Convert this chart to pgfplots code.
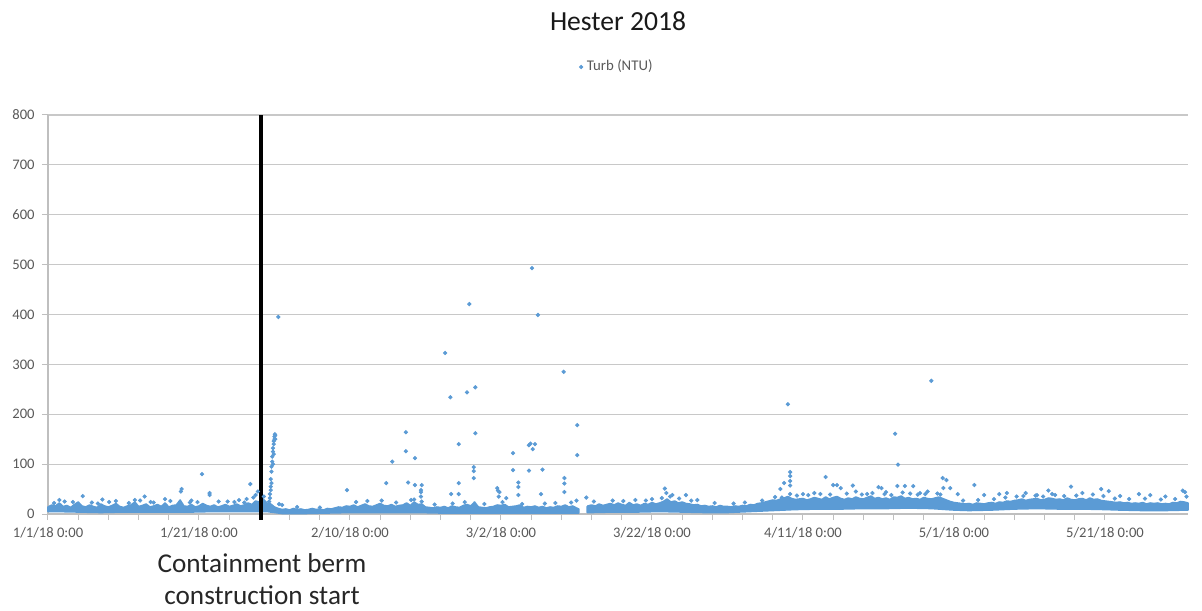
\documentclass[border=0pt]{standalone}
\usepackage{fontspec}
\setmainfont{Carlito}
\usepackage{pgfplots}
\pgfplotsset{compat=1.18}
\usetikzlibrary{calc}
\definecolor{exblue}{HTML}{5B9BD5}
\definecolor{gridgray}{HTML}{C8C8C8}
\definecolor{axisgray}{HTML}{BFBFBF}
\definecolor{labelgray}{HTML}{595959}
\begin{document}
\begin{tikzpicture}
\begin{axis}[name=ax,
  width=570pt, height=199.5pt, scale only axis,
  xmin=0, xmax=151, ymin=0, ymax=800,
  ytick={0,100,...,800},
  xtick={0,20,...,140},
  xticklabels={1/1/18 0:00,1/21/18 0:00,2/10/18 0:00,3/2/18 0:00,3/22/18 0:00,4/11/18 0:00,5/1/18 0:00,5/21/18 0:00},
  minor x tick num=4,
  axis x line*=bottom, axis y line*=left,
  axis line style={draw=axisgray, line width=0.6pt, -},
  ymajorgrids, grid style={draw=gridgray, line width=0.6pt},
  tick align=outside, major tick length=3pt, minor tick length=3pt,
  tick style={draw=axisgray, line width=0.5pt},
  every tick label/.append style={font=\fontsize{7.3}{8}\selectfont, text=labelgray},
  /pgf/number format/assume math mode=true,
  yticklabel style={anchor=east, inner sep=0pt, xshift=-3.5pt},
  xticklabel style={anchor=base, inner sep=0pt, yshift=-8.8pt},
  clip=false,
  legend style={at={(0.5,1)}, anchor=center, yshift=24pt, draw=none, fill=none,
    font=\fontsize{7.4}{9}\selectfont, text=labelgray},
  legend cell align=left,
]
% individual readings standing out of the band (Turb (NTU))
\addplot[exblue, only marks, mark=*, mark size=0.85pt, mark options={draw=none, fill=exblue}] coordinates {
(1.5,28) (4.6,36) (7.2,29) (9,26) (11.5,28) (12.8,35) (14,23) (15.5,30) (17.6,45) (17.7,50)
(19,27) (20.4,80) (21.4,42) (21.4,38) (23.8,25) (26,23) (26.8,60) (27.5,38) (27.8,45)
(29.3,25) (29.4,32) (29.4,40) (29.5,48) (29.5,55) (29.5,70) (29.6,62) (29.6,85) (29.6,95)
(29.7,105) (29.7,115) (29.8,100) (29.8,125) (29.8,132) (29.9,120) (29.9,140) (29.9,146)
(30,150) (30,155) (30.05,160) (30.1,158) (30.1,150) (30.5,395) (30.6,20) (31,18)
(39.6,48) (44.8,62) (45.6,105) (47.4,164) (47.4,126) (47.7,63) (48.5,29) (48.6,112) (48.6,58)
(49.4,48) (49.4,44) (49.4,35) (49.5,58) (49.5,25) (52.6,323) (53.3,234) (53.4,40) (54.4,140)
(54.4,62) (54.4,40) (55.5,244) (55.8,421) (56.4,94) (56.4,86) (56.4,72) (56.6,254) (56.6,162)
(59.5,52) (59.6,47) (59.8,44) (59.7,35) (60.7,32) (61.6,122) (61.6,88) (62.3,63) (62.3,54)
(62.3,38) (63.7,138) (63.9,141) (64.1,493) (64.2,130) (64.5,140) (63.7,87) (64.9,399)
(65.3,40) (65.5,89) (68.3,285) (68.4,72) (68.4,61) (68.4,44) (70,27) (70.1,178) (70.1,118)
(71.3,33) (80,30) (81.7,51) (82.7,38) (84.5,38) (86,28) (97,50) (97.5,62) (97.2,33) (98,220)
(98.3,84) (98.3,76) (98.3,66) (98.3,57) (98.3,40) (100,40) (101.5,42) (103,74) (104,58)
(104.5,58) (105,52) (106.6,57) (107,45) (108.5,40) (110,54) (110.4,52) (111,44) (112.2,161)
(112.6,99) (112.5,56) (113.5,56) (114.6,56) (115.5,42) (116.5,45) (117,267) (118.5,72) (119,68)
(118.6,52) (119.5,52) (120.5,40) (122.7,58) (124,38) (126,40) (127,42) (129.5,42) (131,38)
(132.5,47) (133,40) (135.5,55) (137,42) (139.5,50) (140.5,46) (142,36) (144.5,40) (146,38)
(148,35) (150.3,47) (150.6,44)
(0.8,22) (2.2,25) (3.3,24) (5.8,23) (6.6,21) (8.1,24) (10.7,22) (12.2,27) (13.6,24) (16.2,26)
(18.8,23) (19.8,24) (22.6,25) (24.7,24) (25.3,28) (26.3,30) (27.2,33) (28.6,35)
(33,14) (36,13) (40.8,24) (42.3,26) (44.2,27) (46.1,23) (48.1,28) (51.2,19) (53.6,21) (55.2,24)
(57.8,20) (60.2,24) (62.8,20) (65.8,21) (67.2,22) (69.3,23)
(72.3,25) (74.8,27) (76.2,26) (77.8,28) (79.2,27) (81.3,32) (81.9,42) (82.4,35) (83.6,31) (85.2,27)
(88.3,22) (90.8,21) (92.3,23) (94.6,27)
(96.3,34) (99.2,37) (100.7,38) (102.3,40) (103.6,39) (105.8,41) (107.8,39) (109.2,42) (110.8,40)
(111.7,38) (113.2,43) (114.2,41) (115.2,39) (116.2,40) (117.8,41) (118.2,39)
(121.2,27) (123.2,28) (125.3,30) (126.8,33) (128.3,35) (129.2,36) (130.8,37) (131.8,35) (133.4,38)
(134.6,36) (136.2,37) (138.4,39) (139.8,36) (141.3,31) (143.2,30) (145.3,31) (147.4,29) (149.3,30)
(150.8,35)
};
\addlegendentry{Turb (NTU)}
% dense band of readings, 1 Jan - 10 Mar (upper edge, then lower edge back)
\addplot[draw=exblue, fill=exblue, line width=0.8pt, line join=round, forget plot] coordinates {
(0,14) (0.5,18) (1,16) (1.5,22) (2,15) (2.5,17) (3,13) (3.5,19) (4,24) (4.5,16) (5,14) (5.5,18) (6,15) (6.5,13) (7,20) (7.5,16) (8,14) (8.5,17) (9,21) (9.5,15)
(10,13) (10.5,16) (11,18) (11.5,24) (12,15) (12.5,17) (13,20) (13.5,14) (14,16) (14.5,19) (15,15) (15.5,22) (16,14) (16.5,17) (17,18) (17.5,28) (18,16) (18.5,15) (19,19) (19.5,14)
(20,16) (20.5,21) (21,17) (21.5,15) (22,18) (22.5,14) (23,16) (23.5,19) (24,15) (24.5,17) (25,20) (25.5,16) (26,18) (26.5,22) (27,19) (27.5,26) (28,24) (28.5,30) (29,22) (29.5,20)
(30,14) (30.5,11) (31,9) (31.5,10) (32,8) (32.5,11) (33,9) (33.5,10) (34,8) (34.5,9) (35,11) (35.5,9) (36,10) (36.5,8) (37,11) (37.5,10) (38,12) (38.5,14) (39,13) (39.5,16)
(40,15) (40.5,18) (41,14) (41.5,17) (42,20) (42.5,16) (43,15) (43.5,18) (44,21) (44.5,17) (45,16) (45.5,19) (46,15) (46.5,17) (47,18) (47.5,22) (48,17) (48.5,24) (49,19) (49.5,20)
(50,14) (50.5,13) (51,12) (51.5,14) (52,13) (52.5,15) (53,12) (53.5,16) (54,14) (54.5,13) (55,17) (55.5,19) (56,16) (56.5,24) (57,14) (57.5,13) (58,12) (58.5,14) (59,15) (59.5,18)
(60,17) (60.5,19) (61,14) (61.5,15) (62,16) (62.5,18) (63,13) (63.5,15) (64,14) (64.5,16) (65,13) (65.5,15) (66,12) (66.5,14) (67,13) (67.5,16) (68,15) (68.5,18) (69,14) (69.5,16)
(70,12) (70.3,10)
(70.3,2) (67,2) (64,2) (61,2) (58,2) (55,2) (52,2) (49,3) (46,3) (43,3) (40,3) (37,2) (34,1) (31,1) (30,3) (29,5) (28,5) (25,5) (22,5) (19,4) (16,4) (13,4) (10,4) (7,3) (4,4) (1,5) (0,5)
} -- cycle;
% dense band of readings, 11 Mar - 31 May
\addplot[draw=exblue, fill=exblue, line width=0.8pt, line join=round, forget plot] coordinates {
(71.4,14) (71.5,16) (72,18) (72.5,16) (73,20) (73.5,17) (74,19) (74.5,21) (75,18) (75.5,22) (76,19) (76.5,17) (77,23) (77.5,18) (78,20) (78.5,17) (79,21) (79.5,19)
(80,23) (80.5,20) (81,22) (81.5,25) (82,30) (82.5,24) (83,26) (83.5,22) (84,24) (84.5,21) (85,20) (85.5,18) (86,19) (86.5,16) (87,17) (87.5,15) (88,16) (88.5,14) (89,17) (89.5,15)
(90,15) (90.5,14) (91,16) (91.5,15) (92,17) (92.5,16) (93,19) (93.5,18) (94,21) (94.5,22) (95,24) (95.5,26) (96,28) (96.5,27) (97,30) (97.5,32) (98,35) (98.5,31) (99,29) (99.5,30)
(100,31) (100.5,28) (101,30) (101.5,33) (102,31) (102.5,29) (103,34) (103.5,30) (104,33) (104.5,35) (105,31) (105.5,29) (106,32) (106.5,30) (107,34) (107.5,31) (108,30) (108.5,33) (109,36) (109.5,31)
(110,33) (110.5,30) (111,32) (111.5,29) (112,34) (112.5,33) (113,36) (113.5,31) (114,33) (114.5,30) (115,31) (115.5,29) (116,33) (116.5,31) (117,30) (117.5,32) (118,34) (118.5,31) (119,28) (119.5,25)
(120,23) (120.5,22) (121,21) (121.5,20) (122,21) (122.5,19) (123,22) (123.5,21) (124,20) (124.5,22) (125,23) (125.5,21) (126,24) (126.5,23) (127,26) (127.5,25) (128,27) (128.5,28) (129,30) (129.5,27)
(130,29) (130.5,30) (131,31) (131.5,28) (132,29) (132.5,32) (133,31) (133.5,29) (134,30) (134.5,28) (135,32) (135.5,29) (136,28) (136.5,30) (137,31) (137.5,28) (138,32) (138.5,29) (139,30) (139.5,27)
(140,26) (140.5,25) (141,24) (141.5,23) (142,24) (142.5,22) (143,23) (143.5,21) (144,22) (144.5,21) (145,23) (145.5,20) (146,22) (146.5,21) (147,22) (147.5,20) (148,21) (148.5,20) (149,23) (149.5,22)
(150,25) (150.5,24) (151,22)
(151,8) (148,7) (145,7) (142,8) (140,9) (137,10) (134,10) (131,11) (128,10) (125,8) (122,7) (120,8) (117,11) (114,12) (111,11) (108,11) (105,10) (102,10) (99,9) (96,7) (93,5) (90,3) (87,3) (84,4) (81,5) (78,4) (75,4) (72,3) (71.4,3)
} -- cycle;
% construction start marker
\addplot[black, line width=1.6pt, forget plot] coordinates {(28.2,-12) (28.2,800)};
\end{axis}
\node[anchor=base, font=\fontsize{13.8}{16}\selectfont, text=black!90] at ($(ax.north)+(0,42pt)$) {Hester 2018};
\node[anchor=base, font=\fontsize{13.6}{16}\selectfont, text=black!85] at ($(ax.south west)+(107pt,-29pt)$) {Containment berm};
\node[anchor=base, font=\fontsize{13.6}{16}\selectfont, text=black!85] at ($(ax.south west)+(107pt,-45pt)$) {construction start};
\path ($(ax.south west)+(-24pt,-46.5pt)$) rectangle ($(ax.north east)+(7pt,57.5pt)$);
\end{tikzpicture}
\end{document}
